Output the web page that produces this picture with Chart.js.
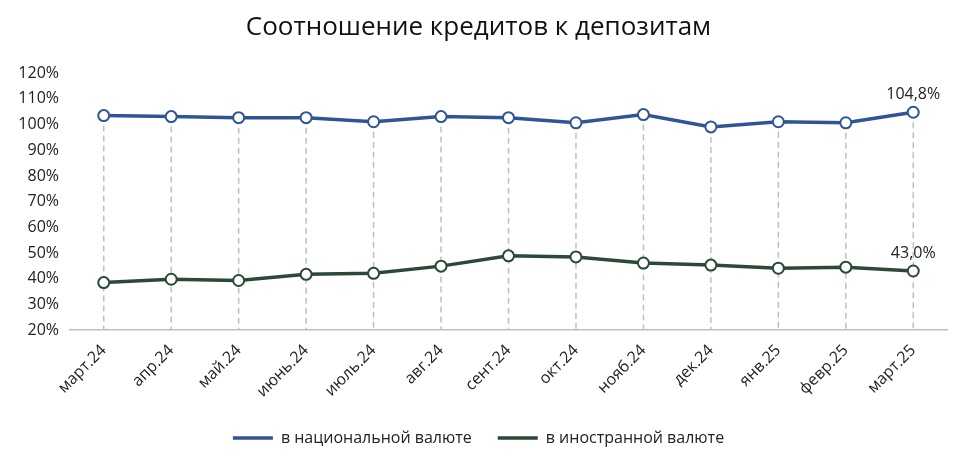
<!DOCTYPE html>
<html>
<head>
<meta charset="utf-8">
<script src="https://cdn.jsdelivr.net/npm/chart.js@4"></script>
<style>
  html, body { margin: 0; background: #fff; }
  #wrap { width: 969px; height: 462px; }
</style>
</head>
<body>
<div id="wrap"><canvas id="chart"></canvas></div>
<script>
const months = ['март.24', 'апр.24', 'май.24', 'июнь.24', 'июль.24', 'авг.24', 'сент.24', 'окт.24', 'нояб.24', 'дек.24', 'янв.25', 'февр.25', 'март.25'];
const national = [103.5, 103.1, 102.7, 102.7, 101.1, 103.1, 102.7, 100.7, 103.9, 99.1, 101.1, 100.7, 104.8];
const foreign = [38.5, 39.8, 39.3, 41.7, 42.1, 44.9, 48.9, 48.5, 46.1, 45.3, 44.1, 44.5, 43.0];

const blue = '#2F5597';
const green = '#2B4A36';
const font = "'Open Sans', sans-serif";

// dashed drop lines from the upper series down to the axis
const dropLines = {
    id: 'dropLines',
    beforeDatasetsDraw(chart) {
        const ctx = chart.ctx;
        const meta = chart.getDatasetMeta(0);
        const bottom = chart.scales.y.bottom;
        ctx.save();
        ctx.strokeStyle = '#BFBFBF';
        ctx.lineWidth = 1.5;
        ctx.setLineDash([6, 4]);
        meta.data.forEach(p => {
            ctx.beginPath();
            ctx.moveTo(p.x, p.y);
            ctx.lineTo(p.x, bottom);
            ctx.stroke();
        });
        ctx.restore();
    }
};

// value labels on the last points
const lastLabels = {
    id: 'lastLabels',
    afterDatasetsDraw(chart) {
        const ctx = chart.ctx;
        ctx.save();
        ctx.font = '16px ' + font;
        ctx.fillStyle = '#222';
        ctx.textAlign = 'center';
        chart.data.datasets.forEach((ds, i) => {
            const pts = chart.getDatasetMeta(i).data;
            const p = pts[pts.length - 1];
            const v = ds.data[ds.data.length - 1];
            ctx.fillText(v.toFixed(1).replace('.', ',') + '%', p.x, p.y - 18);
        });
        ctx.restore();
    }
};

const pointOpts = {
    borderWidth: 3.5,
    pointRadius: 5.5,
    pointBorderWidth: 2,
    pointBackgroundColor: '#fff',
    tension: 0
};

new Chart(document.getElementById('chart'), {
    type: 'line',
    data: {
        labels: months,
        datasets: [
            { label: 'в национальной валюте', data: national, borderColor: blue, pointBorderColor: blue, ...pointOpts },
            { label: 'в иностранной валюте', data: foreign, borderColor: green, pointBorderColor: green, ...pointOpts }
        ]
    },
    options: {
        responsive: true,
        maintainAspectRatio: false,
        animation: false,
        layout: { padding: { left: 10, right: 22, top: 6, bottom: 6 } },
        plugins: {
            title: {
                display: true,
                text: 'Соотношение кредитов к депозитам',
                color: '#111',
                font: { family: font, size: 26, weight: 'normal' },
                padding: { top: 6, bottom: 30 }
            },
            legend: {
                position: 'bottom',
                labels: {
                    boxWidth: 40,
                    boxHeight: 0,
                    color: '#222',
                    font: { family: font, size: 16 },
                    padding: 26
                }
            },
            tooltip: { enabled: false }
        },
        scales: {
            y: {
                min: 20,
                max: 120,
                afterFit: s => { s.width = 60; },
                ticks: {
                    stepSize: 10,
                    color: '#222',
                    font: { family: font, size: 16 },
                    callback: v => v + '%'
                },
                grid: { display: false },
                border: { display: false }
            },
            x: {
                offset: true,
                ticks: {
                    color: '#222',
                    font: { family: font, size: 16 },
                    maxRotation: 45,
                    minRotation: 45
                },
                grid: { display: false },
                border: { color: '#BFBFBF', width: 1.5 }
            }
        }
    },
    plugins: [dropLines, lastLabels]
});
</script>
</body>
</html>
